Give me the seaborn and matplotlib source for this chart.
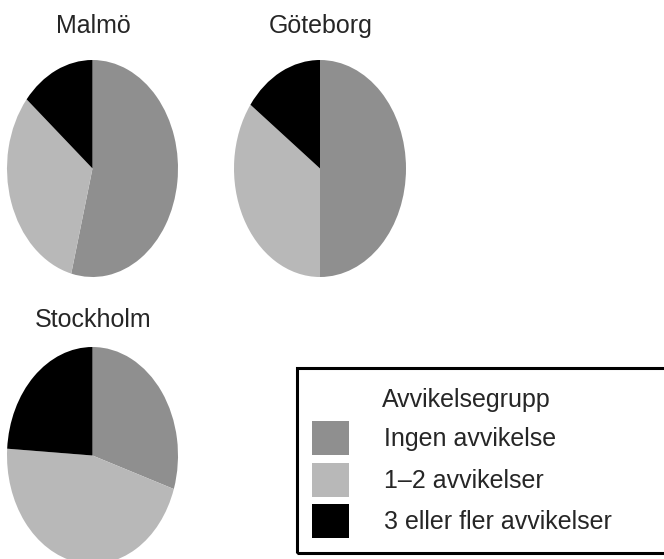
import matplotlib
matplotlib.use('Agg')
import matplotlib.pyplot as plt
from matplotlib.patches import Rectangle
import seaborn as sns

sns.set_theme(style='white')
plt.rcParams['font.family'] = ['Liberation Sans', 'DejaVu Sans']

# data (share in %)
cities = ['Malmö', 'Göteborg', 'Stockholm']
groups = ['Ingen avvikelse', '1–2 avvikelser', '3 eller fler avvikelser']
ingen = [54, 50, 30]
en_tva = [32, 35, 46]
tre_plus = [14, 15, 24]
colors = ['#8f8f8f', '#b8b8b8', '#000000']

W, H = 664, 559
fig = plt.figure(figsize=(W / 100, H / 100), dpi=100)
fig.patch.set_facecolor('white')

def px(x0, y0, x1, y1):
    # pixel box -> figure fraction rect
    return [x0 / W, 1 - y1 / H, (x1 - x0) / W, (y1 - y0) / H]

# pie boxes and title anchors in pixels
boxes = [(7, 60, 178, 277), (234, 60, 406, 277), (7, 347, 178, 564)]
titles = [(93, 33), (321, 33), (93, 327)]

wedges = None
for i, city in enumerate(cities):
    ax = fig.add_axes(px(*boxes[i]))
    vals = [ingen[i], en_tva[i], tre_plus[i]]
    w, _ = ax.pie(vals, colors=colors, startangle=90, counterclock=False,
                  wedgeprops={'linewidth': 0})
    ax.set_aspect('auto')
    ax.set_xlim(-1, 1)
    ax.set_ylim(-1, 1)
    ax.axis('off')
    if wedges is None:
        wedges = w
    tx, ty = titles[i]
    fig.text(tx / W, 1 - ty / H, city, ha='center', va='baseline', fontsize=18)

# legend frame (runs past the right edge)
fig.patches.append(Rectangle((297 / W, 1 - 553 / H), 400 / W, 185 / H,
                             transform=fig.transFigure, fill=False,
                             edgecolor='black', linewidth=2.2))
fig.text(382 / W, 1 - 407 / H, 'Avvikelsegrupp', ha='left', va='baseline', fontsize=18)

fs = 18
fig.legend(wedges, groups, loc='upper left',
           bbox_to_anchor=(312 / W, 1 - 421 / H), bbox_transform=fig.transFigure,
           frameon=False, fontsize=fs, borderpad=0, borderaxespad=0,
           handlelength=1.48, handleheight=1.72, handletextpad=1.4,
           labelspacing=0.3)

fig.savefig('out.png', dpi=100)
